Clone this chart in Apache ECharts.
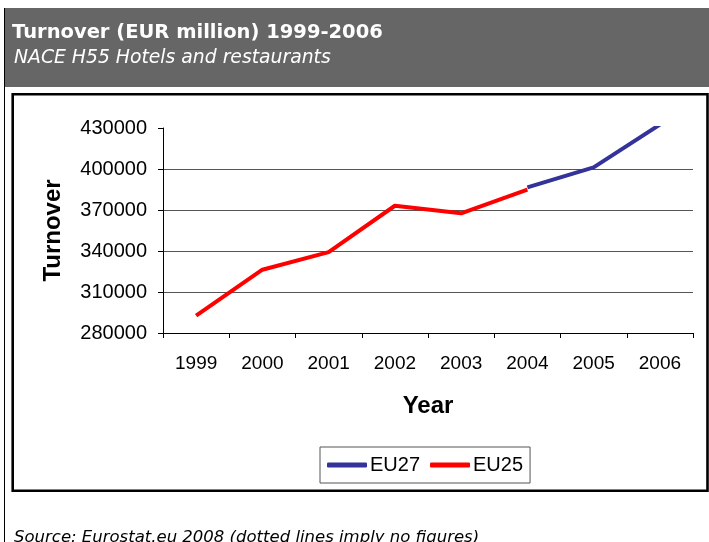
<!DOCTYPE html>
<html>
<head>
<meta charset="utf-8">
<script src="https://cdn.jsdelivr.net/npm/echarts@6/dist/echarts.min.js"></script>
<style>
html,body{margin:0;padding:0;background:#fff;}
#chart{width:709px;height:542px;}
</style>
</head>
<body>
<div id="chart"></div>
<script>
// ---- data ----
var years = ['1999', '2000', '2001', '2002', '2003', '2004', '2005', '2006'];
var eu27 = [null, null, null, null, null, 386500, 401200, 432500];
var eu25 = [292700, 326300, 339200, 373100, 367600, 384900, null, null];
var seriesNames = ['EU27', 'EU25'];
var yMin = 280000, yMax = 430000, yStep = 30000;
var titleText = 'Turnover (EUR million) 1999-2006';
var subtitleText = 'NACE H55 Hotels and restaurants';
var sourceText = 'Source: Eurostat.eu 2008 (dotted lines imply no figures)';
var xName = 'Year', yName = 'Turnover';

var chart = echarts.init(document.getElementById('chart'), null, {renderer: 'canvas'});
var axisFont = 'Liberation Sans, Arial, sans-serif';
var headFont = 'DejaVu Sans, Verdana, sans-serif';

chart.setOption({
  animation: false,
  backgroundColor: '#ffffff',
  graphic: [
    {type: 'rect', z: 0, shape: {x: 5, y: 8, width: 704, height: 79}, style: {fill: '#666666'}},
    {type: 'line', z: 1, shape: {x1: 4.5, y1: 8, x2: 4.5, y2: 542}, style: {stroke: '#000', lineWidth: 1}},
    {type: 'rect', z: 1, shape: {x: 12.7, y: 94.3, width: 694.8, height: 396.4}, style: {fill: 'none', stroke: '#000', lineWidth: 2.6}},
    {type: 'text', z: 2, x: 12, y: 32.5, style: {text: titleText, fill: '#ffffff', font: 'bold 19.5px ' + headFont, textVerticalAlign: 'middle'}},
    {type: 'text', z: 2, x: 14, y: 58, style: {text: subtitleText, fill: '#ffffff', font: 'italic 18.8px ' + headFont, textVerticalAlign: 'middle'}},
    {type: 'text', z: 2, x: 14, y: 538, style: {text: sourceText, fill: '#000000', font: 'italic 16.5px ' + headFont, textVerticalAlign: 'middle'}}
  ],
  grid: {left: 163, top: 128, right: 16, bottom: 209, containLabel: false},
  legend: {
    data: seriesNames,
    left: 320, top: 447,
    padding: [8, 7],
    itemGap: 10,
    itemWidth: 40, itemHeight: 5,
    icon: 'roundRect',
    borderColor: '#555', borderWidth: 1,
    textStyle: {fontFamily: axisFont, fontSize: 20, color: '#000', padding: [0, 0, 0, -2]}
  },
  xAxis: {
    type: 'category',
    data: years,
    boundaryGap: true,
    name: xName,
    nameLocation: 'middle',
    nameGap: 61,
    nameTextStyle: {fontFamily: axisFont, fontSize: 24, fontWeight: 'bold', color: '#000'},
    axisLine: {lineStyle: {color: '#000', width: 1}},
    axisTick: {show: true, length: 5, lineStyle: {color: '#000'}},
    axisLabel: {fontFamily: axisFont, fontSize: 19, color: '#000', margin: 21},
    splitLine: {show: false}
  },
  yAxis: {
    type: 'value',
    min: yMin, max: yMax, interval: yStep,
    name: yName,
    nameLocation: 'middle',
    nameRotate: 90,
    nameGap: 98,
    nameTextStyle: {fontFamily: axisFont, fontSize: 24, fontWeight: 'bold', color: '#000'},
    axisLine: {show: true, lineStyle: {color: '#000', width: 1}},
    axisTick: {show: true, length: 5, lineStyle: {color: '#000'}},
    axisLabel: {fontFamily: axisFont, fontSize: 20, color: '#000', margin: 16,
                formatter: function (v) { return String(v); }},
    splitLine: {show: true, showMaxLine: false, showMinLine: false, lineStyle: {color: '#555', width: 1}}
  },
  series: [
    {name: seriesNames[0], type: 'line', data: eu27, symbol: 'none', showSymbol: false, connectNulls: false,
     itemStyle: {color: '#333399'}, lineStyle: {color: '#333399', width: 4}, z: 3},
    {name: seriesNames[1], type: 'line', data: eu25, symbol: 'none', showSymbol: false, connectNulls: false,
     itemStyle: {color: '#ff0000'}, lineStyle: {color: '#ff0000', width: 4}, z: 4}
  ]
});
</script>
</body>
</html>
